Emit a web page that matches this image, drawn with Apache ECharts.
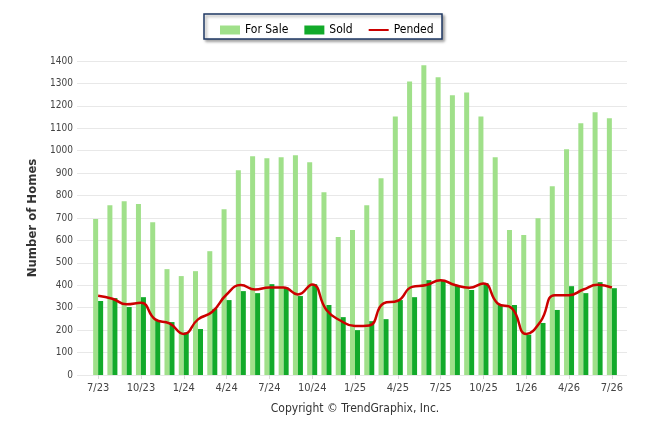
<!DOCTYPE html>
<html>
<head>
<meta charset="utf-8">
<script src="https://cdn.jsdelivr.net/npm/echarts@6/dist/echarts.min.js"></script>
<style>
  html, body { margin: 0; padding: 0; background: #fff; }
  #chart { width: 646px; height: 434px; }
</style>
</head>
<body>
<div id="chart"></div>
<script>
// Months 7/23 .. 7/26
const months = [
  '7/23', '8/23', '9/23', '10/23', '11/23', '12/23',
  '1/24', '2/24', '3/24', '4/24', '5/24', '6/24', '7/24', '8/24', '9/24', '10/24', '11/24', '12/24',
  '1/25', '2/25', '3/25', '4/25', '5/25', '6/25', '7/25', '8/25', '9/25', '10/25', '11/25', '12/25',
  '1/26', '2/26', '3/26', '4/26', '5/26', '6/26', '7/26'
];

const forSale = [
  695, 757, 775, 762, 681, 472,
  441, 463, 552, 739, 913, 975, 966, 971, 980, 949, 815, 615,
  646, 757, 877, 1153, 1309, 1381, 1327, 1247, 1260, 1153, 971, 646,
  624, 699, 842, 1007, 1122, 1171, 1145
];

const sold = [
  330, 343, 303, 347, 245, 236,
  190, 205, 295, 334, 374, 365, 405, 390, 352, 405, 312, 258,
  200, 240, 249, 334, 347, 423, 419, 401, 379, 410, 312, 312,
  180, 232, 290, 396, 365, 414, 387
];

const pended = [
  353, 340, 315, 322, 248, 230,
  183, 248, 282, 359, 401, 381, 390, 390, 359, 404, 290, 242,
  218, 221, 319, 331, 393, 401, 423, 401, 389, 408, 319, 297,
  183, 238, 356, 356, 381, 402, 390
];

const yTicks = { min: 0, max: 1400, step: 100 };

const font = 'Tahoma, "DejaVu Sans Condensed", "Liberation Sans", sans-serif';

const chart = echarts.init(document.getElementById('chart'));

chart.setOption({
  animation: false,
  textStyle: { fontFamily: font },
  grid: [
    // wide grid: y axis labels and gridlines
    { left: 77, right: 19, top: 61, bottom: 59 },
    // inner grid: bars and line
    { left: 91, right: 27, top: 61, bottom: 59 }
  ],
  legend: {
    left: 215,
    top: 19,
    itemWidth: 20,
    itemHeight: 9,
    itemGap: 16,
    textStyle: { fontFamily: font, fontSize: 12, color: '#000' },
    data: [
      { name: 'For Sale', icon: 'rect' },
      { name: 'Sold', icon: 'rect' },
      { name: 'Pended', icon: 'path://M0,0H20V2H0Z' }
    ]
  },
  graphic: [
    {
      type: 'rect',
      shape: { x: 204, y: 14, width: 238, height: 25 },
      style: {
        fill: '#fff',
        stroke: '#1f3864',
        lineWidth: 1.5,
        shadowBlur: 3,
        shadowOffsetX: 2,
        shadowOffsetY: 2,
        shadowColor: 'rgba(0,0,0,0.35)'
      },
      z: -1
    },
    {
      type: 'text',
      x: 355,
      y: 409,
      style: {
        text: 'Copyright \u00a9 TrendGraphix, Inc.',
        fontFamily: font,
        fontSize: 12,
        fill: '#333',
        textAlign: 'center',
        textVerticalAlign: 'middle'
      }
    }
  ],
  xAxis: [
    { gridIndex: 0, type: 'value', min: 0, max: 1, show: false },
    {
      gridIndex: 1,
      type: 'category',
      data: months,
      boundaryGap: true,
      axisLine: { show: false },
      axisTick: {
        show: true,
        alignWithLabel: true,
        interval: 2,
        length: 4,
        lineStyle: { color: '#d8d8d8' }
      },
      axisLabel: {
        interval: 2,
        margin: 8,
        fontSize: 11,
        color: '#444',
        fontFamily: font
      }
    }
  ],
  yAxis: [
    {
      gridIndex: 0,
      type: 'value',
      min: yTicks.min,
      max: yTicks.max,
      interval: yTicks.step,
      name: 'Number of Homes',
      nameLocation: 'middle',
      nameGap: 33,
      nameRotate: 90,
      nameTextStyle: { fontSize: 13, fontWeight: 'bold', color: '#333', fontFamily: font },
      axisLine: { show: false },
      axisTick: { show: false },
      axisLabel: {
        fontSize: 10,
        color: '#444',
        margin: 4,
        fontFamily: font,
        formatter: (v) => String(v)
      },
      splitLine: { lineStyle: { color: '#e8e8e8', width: 1 } }
    },
    {
      gridIndex: 1,
      type: 'value',
      min: yTicks.min,
      max: yTicks.max,
      interval: yTicks.step,
      show: false,
      splitLine: { show: false }
    }
  ],
  series: [
    {
      name: 'For Sale',
      type: 'bar',
      xAxisIndex: 1,
      yAxisIndex: 1,
      data: forSale,
      barWidth: 5,
      barGap: '0%',
      itemStyle: { color: '#a0e08a' }
    },
    {
      name: 'Sold',
      type: 'bar',
      xAxisIndex: 1,
      yAxisIndex: 1,
      data: sold,
      barWidth: 5,
      barGap: '0%',
      itemStyle: { color: '#12aa2a' }
    },
    {
      name: 'Pended',
      type: 'line',
      xAxisIndex: 1,
      yAxisIndex: 1,
      data: pended,
      smooth: 0.5,
      symbol: 'none',
      lineStyle: { color: '#cc0000', width: 2.5 },
      itemStyle: { color: '#cc0000' },
      z: 5
    }
  ]
});
</script>
</body>
</html>
